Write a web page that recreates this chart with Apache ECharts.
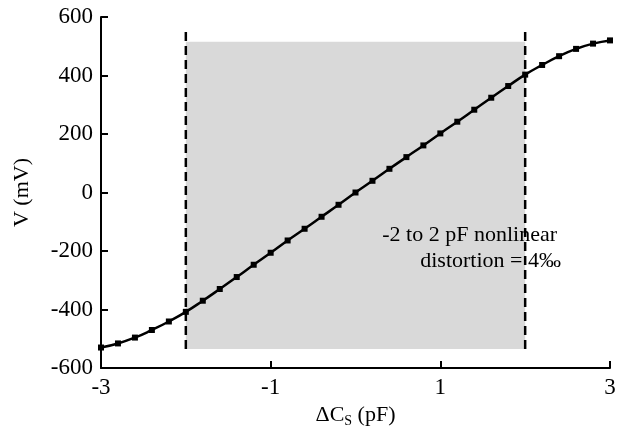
<!DOCTYPE html>
<html>
<head>
<meta charset="UTF-8">
<script src="https://cdn.jsdelivr.net/npm/echarts@6/dist/echarts.min.js"></script>
<style>
  body { margin: 0; background: #fff; }
  #chart { width: 621px; height: 438px; }
</style>
</head>
<body>
<div id="chart"></div>
<script>
// measured curve (ΔCs in pF, V in mV)
const capValues = [-3.0, -2.8, -2.6, -2.4, -2.2, -2.0, -1.8, -1.6, -1.4, -1.2, -1.0,
                   -0.8, -0.6, -0.4, -0.2, 0.0, 0.2, 0.4, 0.6, 0.8, 1.0,
                   1.2, 1.4, 1.6, 1.8, 2.0, 2.2, 2.4, 2.6, 2.8, 3.0];
const voltValues = [-530, -516, -496, -470, -441, -408, -370, -330, -289, -247, -206,
                    -164, -124, -83, -42, 0, 40, 81, 121, 161, 202,
                    242, 283, 324, 364, 403, 436, 466, 491, 509, 520];
// linear region and its limits
const rangeX = [-2, 2];
const rangeY = [-535, 515];
const dashY = [-535, 550];

const chart = echarts.init(document.getElementById('chart'));
const serif = 'Liberation Serif';

chart.setOption({
  animation: false,
  grid: { left: 101, right: 11, top: 17, bottom: 70 },
  xAxis: {
    type: 'value', min: -3, max: 3, interval: 2,
    name: '{a|ΔC}{s|S}{a| (pF)}', nameLocation: 'middle', nameGap: 31,
    nameTextStyle: {
      rich: {
        a: { fontFamily: serif, fontSize: 22, color: '#000' },
        s: { fontFamily: serif, fontSize: 14, color: '#000', verticalAlign: 'bottom', padding: [12, 0, 0, 0] }
      }
    },
    axisLine: { onZero: false, lineStyle: { color: '#000', width: 2 } },
    axisTick: { inside: true, length: 7, lineStyle: { color: '#000', width: 2 } },
    axisLabel: { fontFamily: serif, fontSize: 23, color: '#000', margin: 8 },
    splitLine: { show: false }
  },
  yAxis: {
    type: 'value', min: -600, max: 600, interval: 200,
    name: 'V (mV)', nameLocation: 'middle', nameGap: 68, nameRotate: 90,
    nameTextStyle: { fontFamily: serif, fontSize: 22, color: '#000' },
    axisLine: { show: true, onZero: false, lineStyle: { color: '#000', width: 2 } },
    axisTick: { inside: true, length: 7, lineStyle: { color: '#000', width: 2 } },
    axisLabel: { fontFamily: serif, fontSize: 23, color: '#000', margin: 8 },
    splitLine: { show: false }
  },
  series: [
    {
      type: 'line', data: [], silent: true,
      markArea: {
        silent: true,
        itemStyle: { color: '#d9d9d9' },
        data: [[{ coord: [rangeX[0], rangeY[0]] }, { coord: [rangeX[1], rangeY[1]] }]]
      }
    },
    {
      type: 'line', symbol: 'none', silent: true, z: 3,
      data: [[rangeX[0], dashY[0]], [rangeX[0], dashY[1]]],
      lineStyle: { color: '#000', width: 2.5, type: [9, 5] }
    },
    {
      type: 'line', symbol: 'none', silent: true, z: 3,
      data: [[rangeX[1], dashY[0]], [rangeX[1], dashY[1]]],
      lineStyle: { color: '#000', width: 2.5, type: [9, 5] }
    },
    {
      type: 'line', smooth: true, symbol: 'rect', symbolSize: 6, z: 4,
      data: capValues.map((c, i) => [c, voltValues[i]]),
      lineStyle: { color: '#000', width: 2.5 },
      itemStyle: { color: '#000' }
    }
  ],
  graphic: [
    { type: 'text', right: 64, top: 224, z: 100,
      style: { text: '-2 to 2 pF nonlinear', font: '22px "Liberation Serif"', fill: '#000' } },
    { type: 'text', right: 60, top: 250, z: 100,
      style: { text: 'distortion = 4‰', font: '22px "Liberation Serif"', fill: '#000' } }
  ]
});
</script>
</body>
</html>
